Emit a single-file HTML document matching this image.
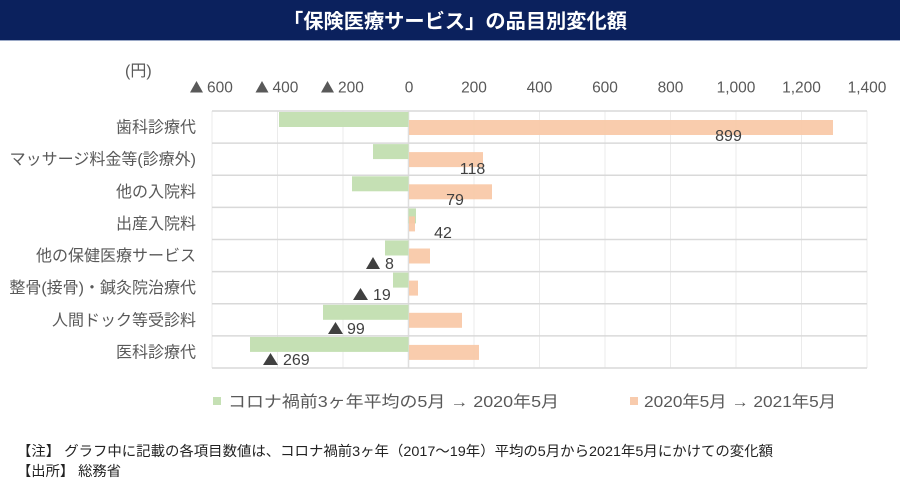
<!DOCTYPE html>
<html><head><meta charset="utf-8">
<style>
html,body{margin:0;padding:0;background:#fff;}
svg{display:block;}
text{font-family:"Liberation Sans","Noto Sans CJK JP",sans-serif;}
</style></head>
<body>
<svg width="900" height="495" viewBox="0 0 900 495" xmlns="http://www.w3.org/2000/svg">
<rect x="0" y="0" width="900" height="495" fill="#fff"/>
<!-- title bar -->
<rect x="0" y="0" width="900" height="40" fill="#0b215d"/>
<rect x="0" y="40" width="900" height="1" fill="#9aa8c6"/>
<text x="455" y="28" text-anchor="middle" font-size="20" font-weight="bold" fill="#fff" textLength="344" lengthAdjust="spacingAndGlyphs">「保険医療サービス」の品目別変化額</text>

<!-- unit -->
<text x="125" y="76" font-size="16" fill="#595959">(円)</text>

<!-- tick labels -->
<g fill="#595959" font-size="15.5">
  <polygon points="190,92.5 203,92.5 196.5,81"/><text x="207" y="92.5">600</text>
  <polygon points="255.5,92.5 268.5,92.5 262,81"/><text x="272.5" y="92.5">400</text>
  <polygon points="321,92.5 334,92.5 327.5,81"/><text x="338" y="92.5">200</text>
  <g text-anchor="middle">
  <text x="409" y="92.5">0</text>
  <text x="474" y="92.5">200</text>
  <text x="539.5" y="92.5">400</text>
  <text x="605" y="92.5">600</text>
  <text x="670.5" y="92.5">800</text>
  <text x="736" y="92.5">1,000</text>
  <text x="801.5" y="92.5">1,200</text>
  <text x="867" y="92.5">1,400</text>
  </g>
</g>

<!-- vertical gridlines -->
<g stroke="#ebebeb" stroke-width="1">
  <line x1="212" y1="111" x2="212" y2="368"/>
  <line x1="277.5" y1="111" x2="277.5" y2="368"/>
  <line x1="343" y1="111" x2="343" y2="368"/>
  <line x1="474" y1="111" x2="474" y2="368"/>
  <line x1="539.5" y1="111" x2="539.5" y2="368"/>
  <line x1="605" y1="111" x2="605" y2="368"/>
  <line x1="670.5" y1="111" x2="670.5" y2="368"/>
  <line x1="736" y1="111" x2="736" y2="368"/>
  <line x1="801.5" y1="111" x2="801.5" y2="368"/>
  <line x1="867" y1="111" x2="867" y2="368"/>
</g>
<line x1="408.5" y1="111" x2="408.5" y2="368" stroke="#dedede" stroke-width="1.5"/>

<!-- horizontal row lines -->
<g stroke="#d9d9d9" stroke-width="1.5">
  <line x1="212" y1="111" x2="867" y2="111"/>
  <line x1="212" y1="143.1" x2="867" y2="143.1"/>
  <line x1="212" y1="175.3" x2="867" y2="175.3"/>
  <line x1="212" y1="207.4" x2="867" y2="207.4"/>
  <line x1="212" y1="239.5" x2="867" y2="239.5"/>
  <line x1="212" y1="271.6" x2="867" y2="271.6"/>
  <line x1="212" y1="303.8" x2="867" y2="303.8"/>
  <line x1="212" y1="335.9" x2="867" y2="335.9"/>
  <line x1="212" y1="368" x2="867" y2="368"/>
</g>

<!-- green bars -->
<g fill="#c5e0b4">
  <rect x="279" y="112" width="129.5" height="15"/>
  <rect x="373" y="144.1" width="35.5" height="15"/>
  <rect x="352" y="176.3" width="56.5" height="15"/>
  <rect x="408.5" y="208.4" width="7.5" height="15"/>
  <rect x="385" y="240.5" width="23.5" height="15"/>
  <rect x="393" y="272.6" width="15.5" height="15"/>
  <rect x="323" y="304.8" width="85.5" height="15"/>
  <rect x="250" y="336.9" width="158.5" height="15"/>
</g>
<!-- orange bars -->
<g fill="#f8c8a6" fill-opacity="0.92">
  <rect x="409" y="120" width="424" height="15"/>
  <rect x="409" y="152.1" width="74" height="15"/>
  <rect x="409" y="184.3" width="83" height="15"/>
  <rect x="409" y="216.4" width="6" height="15"/>
  <rect x="409" y="248.5" width="21" height="15"/>
  <rect x="409" y="280.6" width="9" height="15"/>
  <rect x="409" y="312.8" width="53" height="15"/>
  <rect x="409" y="344.9" width="70" height="15"/>
</g>

<!-- category labels -->
<g fill="#595959" font-size="16" text-anchor="end">
  <text x="196" y="132.5">歯科診療代</text>
  <text x="196" y="164.6">マッサージ料金等(診療外)</text>
  <text x="196" y="196.8">他の入院料</text>
  <text x="196" y="228.9">出産入院料</text>
  <text x="196" y="261">他の保健医療サービス</text>
  <text x="196" y="293.1">整骨(接骨)・鍼灸院治療代</text>
  <text x="196" y="325.3">人間ドック等受診料</text>
  <text x="196" y="357.4">医科診療代</text>
</g>

<!-- value labels -->
<g fill="#404040" font-size="16">
  <text x="728.5" y="140.8" text-anchor="middle">899</text>
  <text x="472.5" y="173.8" text-anchor="middle">118</text>
  <text x="455" y="204.8" text-anchor="middle">79</text>
  <text x="443" y="237.8" text-anchor="middle">42</text>
  <polygon points="366,269 380,269 373,257"/><text x="385" y="269">8</text>
  <polygon points="353,300 368,300 360.5,288"/><text x="373" y="300">19</text>
  <polygon points="328,334 343,334 335.5,322"/><text x="347" y="334">99</text>
  <polygon points="263,365 278,365 270.5,353"/><text x="283" y="365">269</text>
</g>

<!-- legend -->
<rect x="213" y="397" width="8" height="8" fill="#c5e0b4"/>
<text x="228" y="407" font-size="16" fill="#595959" textLength="331" lengthAdjust="spacingAndGlyphs">コロナ禍前3ヶ年平均の5月 → 2020年5月</text>
<rect x="630" y="397" width="8" height="8" fill="#f8cbad"/>
<text x="644" y="407" font-size="16" fill="#595959" textLength="192" lengthAdjust="spacingAndGlyphs">2020年5月 → 2021年5月</text>

<!-- notes -->
<text x="17" y="456" font-size="14" fill="#222" textLength="756" lengthAdjust="spacingAndGlyphs">【注】 グラフ中に記載の各項目数値は、コロナ禍前3ヶ年（2017～19年）平均の5月から2021年5月にかけての変化額</text>
<text x="17" y="476" font-size="14" fill="#222" textLength="104" lengthAdjust="spacingAndGlyphs">【出所】 総務省</text>
</svg>
</body></html>
